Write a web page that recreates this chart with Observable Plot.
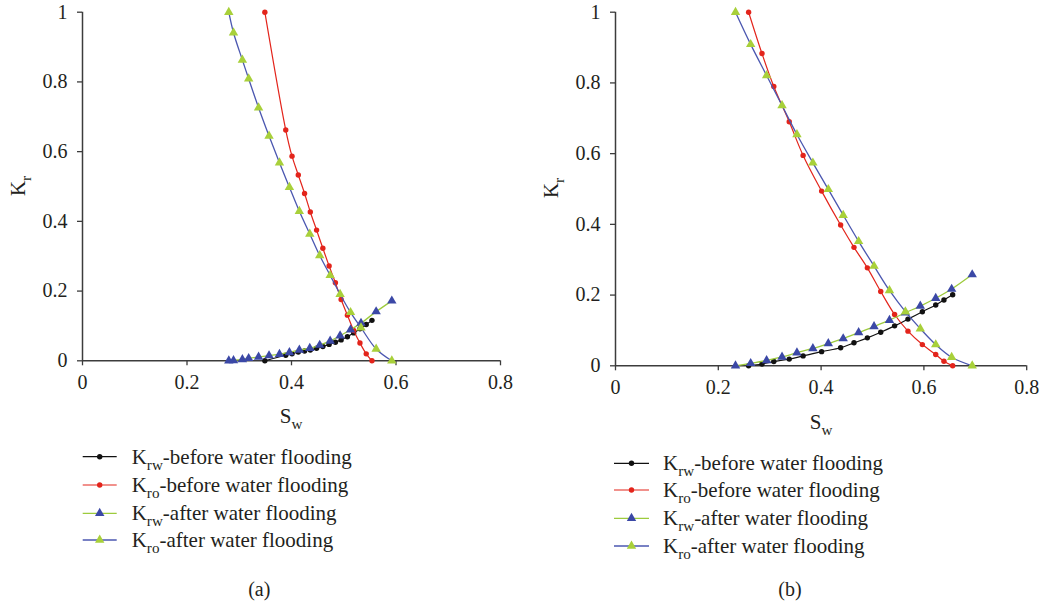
<!DOCTYPE html>
<html>
<head>
<meta charset="utf-8">
<script src="https://cdn.jsdelivr.net/npm/d3@7"></script>
<script src="https://cdn.jsdelivr.net/npm/@observablehq/plot@0.6"></script>
<style>
  body { margin: 0; background: #fff; }
  #wrap { position: relative; width: 1044px; height: 606px; overflow: hidden; font-family: "Liberation Serif", "DejaVu Serif", serif; }
  #wrap > .panel { position: absolute; top: 0; }
  #overlay { position: absolute; left: 0; top: 0; }
</style>
</head>
<body>
<div id="wrap">
  <div class="panel" id="pa" style="left:0px"></div>
  <div class="panel" id="pb" style="left:520px"></div>
</div>
<script>
// ---- Panel (a): relative permeability before / after water flooding ----
const swA_before  = [0.349, 0.389, 0.401, 0.413, 0.425, 0.436, 0.448, 0.460, 0.472, 0.484, 0.495, 0.507, 0.519, 0.531, 0.543, 0.554];
const krwA_before = [0, 0.016, 0.020, 0.025, 0.028, 0.031, 0.036, 0.041, 0.047, 0.053, 0.060, 0.069, 0.080, 0.092, 0.104, 0.116];
const kroA_before = [1.0, 0.662, 0.587, 0.533, 0.480, 0.427, 0.375, 0.323, 0.272, 0.224, 0.176, 0.131, 0.087, 0.051, 0.020, 0];

const swA_after  = [0.280, 0.289, 0.306, 0.318, 0.337, 0.357, 0.377, 0.396, 0.415, 0.435, 0.454, 0.474, 0.493, 0.513, 0.533, 0.562, 0.592];
const krwA_after = [0, 0.001, 0.004, 0.007, 0.011, 0.015, 0.019, 0.024, 0.031, 0.036, 0.045, 0.057, 0.072, 0.089, 0.108, 0.141, 0.172];
const kroA_after = [1.0, 0.941, 0.863, 0.809, 0.726, 0.645, 0.568, 0.498, 0.429, 0.364, 0.302, 0.245, 0.191, 0.139, 0.095, 0.034, 0];

// ---- Panel (b) ----
const swB_before  = [0.259, 0.285, 0.308, 0.338, 0.365, 0.401, 0.438, 0.464, 0.490, 0.516, 0.543, 0.569, 0.597, 0.623, 0.639, 0.656];
const krwB_before = [0, 0.005, 0.012, 0.019, 0.028, 0.040, 0.051, 0.065, 0.079, 0.095, 0.113, 0.132, 0.153, 0.172, 0.186, 0.201];
const kroB_before = [1.0, 0.883, 0.790, 0.690, 0.595, 0.494, 0.398, 0.335, 0.277, 0.210, 0.145, 0.098, 0.060, 0.032, 0.013, 0];

const swB_after  = [0.2335, 0.263, 0.294, 0.324, 0.353, 0.384, 0.414, 0.443, 0.473, 0.503, 0.533, 0.564, 0.593, 0.623, 0.654, 0.694];
const krwB_after = [0, 0.007, 0.015, 0.025, 0.037, 0.049, 0.063, 0.077, 0.094, 0.111, 0.129, 0.150, 0.169, 0.191, 0.217, 0.258];
const kroB_after = [1.0, 0.909, 0.821, 0.736, 0.654, 0.574, 0.499, 0.426, 0.352, 0.282, 0.213, 0.153, 0.105, 0.060, 0.024, 0];

// Axis ticks and series names
const xTicks = [0, 0.2, 0.4, 0.6, 0.8];
const yTicks = [0, 0.2, 0.4, 0.6, 0.8, 1];
const seriesNames = [
  ["rw", "-before water flooding"],
  ["ro", "-before water flooding"],
  ["rw", "-after water flooding"],
  ["ro", "-after water flooding"]
];
const panelCaptions = ["(a)", "(b)"];

// Visual encoding of the four series (line colour, marker shape, marker fill)
const styles = [
  { line: "#111111", width: 1.2, symbol: "circle",   fill: "#111111", r: 2.7 },
  { line: "#e3241b", width: 1.2, symbol: "circle",   fill: "#e3241b", r: 2.7 },
  { line: "#9dcb3c", width: 1.3, symbol: "triangle", fill: "#3b48a6", r: 3.5 },
  { line: "#4b57b0", width: 1.3, symbol: "triangle", fill: "#a8d03a", r: 3.5 }
];

const rows = (sw, kr) => sw.map((s, i) => ({ sw: s, kr: kr[i] }));

const axisColor = "#3c3c3c";
const textColor = "#231f20";
const serif = '"Liberation Serif", "DejaVu Serif", serif';

function panel(seriesRows, size) {
  const marks = [];
  seriesRows.forEach((data, i) => {
    const st = styles[i];
    marks.push(Plot.line(data, { x: "sw", y: "kr", stroke: st.line, strokeWidth: st.width, curve: "catmull-rom" }));
    marks.push(Plot.dot(data, { x: "sw", y: "kr", symbol: st.symbol, r: st.r, fill: st.fill, stroke: "none" }));
  });
  return Plot.plot({
    width: size.width,
    height: size.height,
    marginLeft: size.ml,
    marginRight: size.mr,
    marginTop: size.mt,
    marginBottom: size.mb,
    style: { fontFamily: serif, fontSize: "20px", color: textColor, background: "transparent", overflow: "visible" },
    x: { domain: [0, 0.8] },
    y: { domain: [0, 1] },
    marks: [
      Plot.ruleY([0], { stroke: axisColor, strokeWidth: 1.5 }),
      Plot.ruleX([0], { stroke: axisColor, strokeWidth: 1.5 }),
      Plot.axisX({ ticks: xTicks, tickFormat: d => String(d), tickSize: 5, tickPadding: 9, stroke: axisColor, strokeWidth: 1.3, label: null }),
      Plot.axisY({ ticks: yTicks, tickFormat: d => String(d), tickSize: 5, tickPadding: 10, stroke: axisColor, strokeWidth: 1.3, label: null }),
      ...marks
    ]
  });
}

const chartA = panel(
  [rows(swA_before, krwA_before), rows(swA_before, kroA_before), rows(swA_after, krwA_after), rows(swA_after, kroA_after)],
  { width: 520, height: 435, ml: 82, mr: 20, mt: 11.7, mb: 74.7 }
);
const chartB = panel(
  [rows(swB_before, krwB_before), rows(swB_before, kroB_before), rows(swB_after, krwB_after), rows(swB_after, kroB_after)],
  { width: 524, height: 440, ml: 95, mr: 17.8, mt: 11.7, mb: 74.7 }
);
document.getElementById("pa").append(chartA);
document.getElementById("pb").append(chartB);

// Axis titles, legends and panel captions drawn on a full-page SVG layer
const overlay = d3.select("#wrap").append("svg")
  .attr("id", "overlay")
  .attr("width", 1044).attr("height", 606)
  .style("font-family", serif)
  .style("fill", textColor);

function subText(g, x, y, main, sub, rest, size, anchor) {
  const t = g.append("text").attr("x", x).attr("y", y).attr("font-size", size).attr("text-anchor", anchor || "start");
  t.append("tspan").text(main);
  t.append("tspan").attr("font-size", size * 0.72).attr("dy", size * 0.28).text(sub);
  if (rest) t.append("tspan").attr("dy", -size * 0.28).text(rest);
  return t;
}

const layouts = [
  { ylab: [25, 186], xlab: [291, 423], legend: { x0: 82.7, x1: 116.7, tx: 131.7, ys: [456.7, 485, 513.3, 540] }, cap: [259.3, 596] },
  { ylab: [558, 188], xlab: [821, 429], legend: { x0: 614, x1: 649, tx: 663, ys: [463.3, 490, 518.3, 546] }, cap: [790, 596] }
];

layouts.forEach((L, p) => {
  // y-axis title: K_r
  const gy = overlay.append("g").attr("transform", `translate(${L.ylab[0]},${L.ylab[1]}) rotate(-90)`);
  subText(gy, 0, 0, "K", "r", null, 21, "middle");
  // x-axis title: S_w
  subText(overlay, L.xlab[0], L.xlab[1], "S", "w", null, 21, "middle");
  // legend
  seriesNames.forEach((nm, i) => {
    const st = styles[i];
    const y = L.legend.ys[i];
    const cx = (L.legend.x0 + L.legend.x1) / 2;
    overlay.append("line")
      .attr("x1", L.legend.x0).attr("x2", L.legend.x1).attr("y1", y).attr("y2", y)
      .attr("stroke", st.line).attr("stroke-width", st.width);
    const sym = st.symbol === "triangle" ? d3.symbolTriangle : d3.symbolCircle;
    overlay.append("path")
      .attr("d", d3.symbol(sym, Math.PI * st.r * st.r)())
      .attr("transform", `translate(${cx},${y})`)
      .attr("fill", st.fill);
    subText(overlay, L.legend.tx, y + 7, "K", nm[0], nm[1], 21, "start");
  });
  // panel caption
  overlay.append("text").attr("x", L.cap[0]).attr("y", L.cap[1]).attr("font-size", 20)
    .attr("text-anchor", "middle").text(panelCaptions[p]);
});
</script>
</body>
</html>
